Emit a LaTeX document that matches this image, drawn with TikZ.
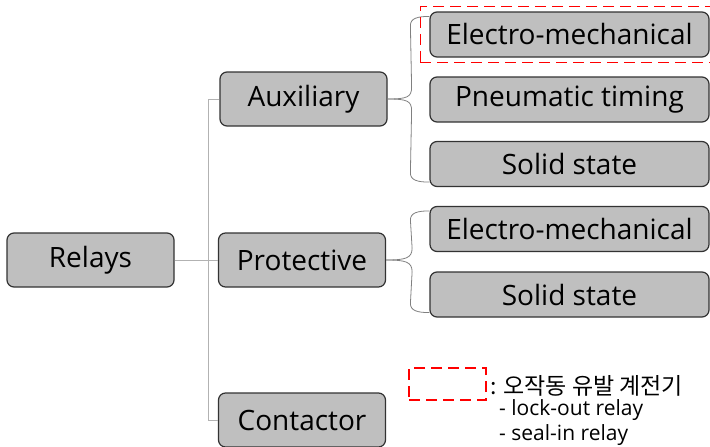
\documentclass[tikz,border=0pt]{standalone}
\usepackage{fontspec}
\setmainfont{Open Sans}
\newfontfamily\krfont{Noto Sans CJK KR}
\usetikzlibrary{positioning,fit}

\begin{document}
\begin{tikzpicture}[x=1pt,y=-1pt,
	box/.style={draw=black!80,fill=gray!50,line width=1.2pt,rounded corners=7pt,inner sep=0pt,minimum height=54pt,minimum width=167pt,font=\fontsize{28}{32}\selectfont},
	leaf/.style={box,minimum height=45pt,minimum width=279pt},
	link/.style={gray!60,line width=0.9pt},
	brace/.style={gray,line width=0.8pt},
	hot/.style={draw=red,dash pattern=on 11pt off 6pt,line width=1.6pt},
	legend/.style={inner sep=0pt,anchor=west,font=\fontsize{21}{24}\selectfont}]
	\useasboundingbox (0,0) rectangle (710,447);
	\node [box] (rel) at (90.5,260) {Relays};
	\node [box] (aux) at (303.5,99) {Auxiliary};
	\node [box] (pro) at (302,260) {Protective};
	\node [box] (con) at (302,420) {Contactor};
	\node [leaf] (e1) at (569.5,34.5) {Electro-mechanical};
	\node [leaf] (p1) at (569.5,99.5) {Pneumatic timing};
	\node [leaf] (s1) at (569.5,164) {Solid state};
	\node [leaf] (e2) at (569.5,229) {Electro-mechanical};
	\node [leaf] (s2) at (569.5,294.5) {Solid state};
	\coordinate (trunk) at (208,260);
	\draw [link] (rel) -- (pro);
	\draw [link] (aux.west) -- (aux.west -| trunk) -- (con.west -| trunk) -- (con.west);
	\draw [brace] (aux.east) .. controls +(20,0) and +(0,10) .. ++(24,-12) -- ([xshift=-19pt,yshift=-14pt]e1.north west) .. controls +(0,-7) and +(-12,0) .. ([yshift=-5pt]e1.north west);
	\draw [brace] (aux.east) .. controls +(20,0) and +(0,-10) .. ++(24,12) -- ([xshift=-19pt,yshift=14pt]s1.south west) .. controls +(0,7) and +(-12,0) .. ([yshift=5pt]s1.south west);
	\draw [brace] (pro.east) .. controls +(20,0) and +(0,10) .. ++(26,-12) -- ([xshift=-19pt,yshift=-14pt]e2.north west) .. controls +(0,-7) and +(-12,0) .. ([yshift=-5pt]e2.north west);
	\draw [brace] (pro.east) .. controls +(20,0) and +(0,-10) .. ++(26,12) -- ([xshift=-19pt,yshift=14pt]s2.south west) .. controls +(0,7) and +(-12,0) .. ([yshift=5pt]s2.south west);
	\node [hot,fit=(e1),inner xsep=9pt,inner ysep=5pt] (mark) {};
	\node [hot,minimum width=77pt,minimum height=32pt,inner sep=0pt] (key) at (447.5,384) {};
	\node [legend,font=\krfont\fontsize{23}{26}\selectfont] (keytxt) at (490,386) {: 오작동 유발 계전기};
	\node [legend] (lock) at (499,410) {- lock-out relay};
	\node [legend] (seal) at (499,435) {- seal-in relay};
\end{tikzpicture}
\end{document}
